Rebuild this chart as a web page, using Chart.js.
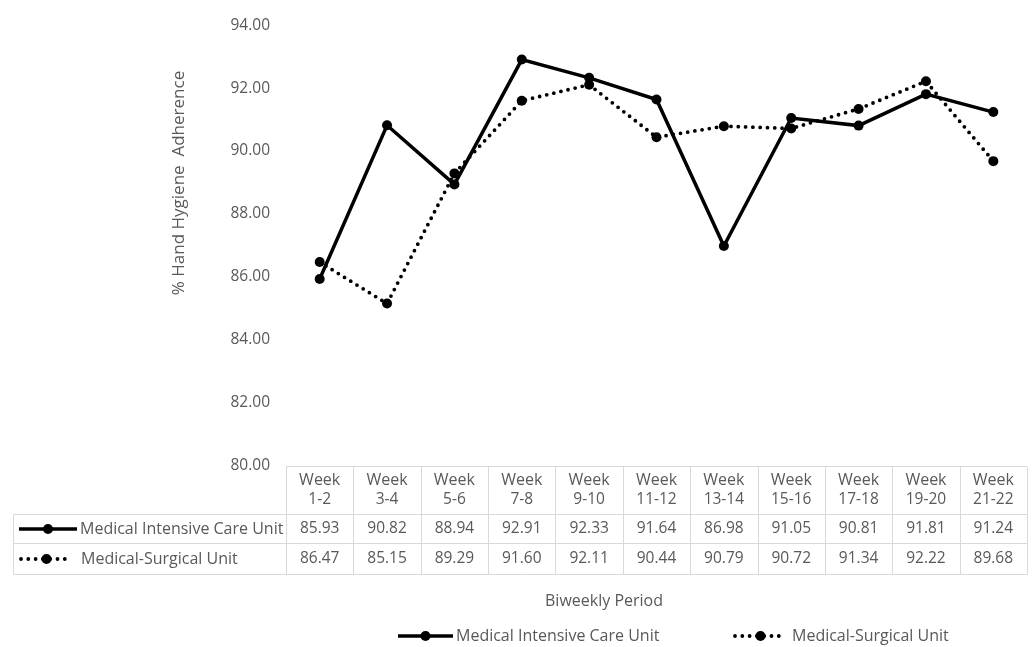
<!DOCTYPE html>
<html>
<head>
<meta charset="utf-8">
<title>Hand Hygiene Adherence by Biweekly Period</title>
<script src="https://cdn.jsdelivr.net/npm/chart.js@4.4.1/dist/chart.umd.min.js"></script>
<style>
  html, body { margin: 0; padding: 0; background: #ffffff; }
  #wrap { width: 1033px; height: 647px; position: relative; }
</style>
</head>
<body>
<div id="wrap"><canvas id="chart" width="1033" height="647"></canvas></div>
<script>
// Biweekly periods (shown as two-line headers in the data table)
const periods = [
  ['Week', '1-2'], ['Week', '3-4'], ['Week', '5-6'], ['Week', '7-8'],
  ['Week', '9-10'], ['Week', '11-12'], ['Week', '13-14'], ['Week', '15-16'],
  ['Week', '17-18'], ['Week', '19-20'], ['Week', '21-22']
];

// % hand hygiene adherence per unit
const micuLabel = 'Medical Intensive Care Unit';
const micuValues = [85.93, 90.82, 88.94, 92.91, 92.33, 91.64, 86.98, 91.05, 90.81, 91.81, 91.24];

const msuLabel = 'Medical-Surgical Unit';
const msuValues = [86.47, 85.15, 89.29, 91.60, 92.11, 90.44, 90.79, 90.72, 91.34, 92.22, 89.68];

// Value axis range
const yMin = 80;
const yMax = 94;
const yStep = 2;

const yTitle = '% Hand Hygiene  Adherence';
const xTitle = 'Biweekly Period';

const FONT = '"Open Sans", "Noto Sans", sans-serif';
const TEXT = '#595959';
const GRID = '#d9d9d9';
const WORD_FONT = '16px ' + FONT;
const NUM_FONT = '15.5px ' + FONT;

// Draws a legend key (line + marker) in the dataset's style
function drawKey(ctx, ds, x0, x1, y) {
  ctx.save();
  ctx.strokeStyle = ds.borderColor;
  ctx.lineWidth = ds.borderWidth;
  ctx.lineCap = ds.borderCapStyle || 'butt';
  ctx.setLineDash(ds.borderDash || []);
  ctx.beginPath();
  ctx.moveTo(x0, y);
  ctx.lineTo(x1, y);
  ctx.stroke();
  ctx.setLineDash([]);
  ctx.fillStyle = ds.pointBackgroundColor;
  ctx.beginPath();
  ctx.arc((x0 + x1) / 2, y, ds.pointRadius, 0, Math.PI * 2);
  ctx.fill();
  ctx.restore();
}

// Data table under the plot, axis titles and bottom legend
const tablePlugin = {
  id: 'dataTable',
  afterDraw(chart) {
    const ctx = chart.ctx;
    const xs = chart.scales.x;
    const area = chart.chartArea;
    const n = periods.length;
    const step = xs.getPixelForValue(1) - xs.getPixelForValue(0);
    const colLeft = i => xs.getPixelForValue(i) - step / 2;
    const left = colLeft(0);
    const right = colLeft(n);
    const tableLeft = 13.5;
    const rTop = area.bottom + 1;
    const rHead = 514.5;
    const r1 = 543.5;
    const r2 = 574.5;

    ctx.save();
    ctx.strokeStyle = GRID;
    ctx.lineWidth = 1;
    ctx.beginPath();
    // horizontal rules
    ctx.moveTo(left, rTop); ctx.lineTo(right, rTop);
    [rHead, r1, r2].forEach(y => { ctx.moveTo(tableLeft, y); ctx.lineTo(right, y); });
    // vertical rules
    for (let i = 0; i <= n; i++) {
      const x = Math.round(colLeft(i)) + 0.5;
      ctx.moveTo(x, rTop); ctx.lineTo(x, r2);
    }
    ctx.moveTo(tableLeft, rHead); ctx.lineTo(tableLeft, r2);
    ctx.stroke();

    ctx.fillStyle = TEXT;
    ctx.textAlign = 'center';
    ctx.textBaseline = 'middle';
    for (let i = 0; i < n; i++) {
      const cx = xs.getPixelForValue(i);
      ctx.font = WORD_FONT;
      ctx.fillText(periods[i][0], cx, 480);
      ctx.font = NUM_FONT;
      ctx.fillText(periods[i][1], cx, 500);
      ctx.fillText(micuValues[i].toFixed(2), cx, 529);
      ctx.fillText(msuValues[i].toFixed(2), cx, 559);
    }

    const ds = chart.data.datasets;
    drawKey(ctx, ds[0], 19, 77, 529);
    drawKey(ctx, ds[1], 21, 72, 559);
    ctx.fillStyle = TEXT;
    ctx.font = WORD_FONT;
    ctx.textAlign = 'left';
    ctx.fillText(micuLabel, 80, 529);
    ctx.fillText(msuLabel, 81, 559);

    // x axis title
    ctx.textAlign = 'center';
    ctx.font = WORD_FONT;
    ctx.fillText(xTitle, 604, 601);

    // y axis title
    ctx.save();
    ctx.font = '17px ' + FONT;
    ctx.translate(179, 183);
    ctx.rotate(-Math.PI / 2);
    ctx.fillText(yTitle, 0, 0);
    ctx.restore();

    // bottom legend
    ctx.font = WORD_FONT;
    ctx.textAlign = 'left';
    drawKey(ctx, ds[0], 398, 453, 636);
    ctx.fillStyle = TEXT;
    ctx.fillText(micuLabel, 456, 636);
    drawKey(ctx, ds[1], 735, 786, 636);
    ctx.fillStyle = TEXT;
    ctx.fillText(msuLabel, 792, 636);
    ctx.restore();
  }
};

new Chart(document.getElementById('chart'), {
  type: 'line',
  data: {
    labels: periods.map(p => p.join(' ')),
    datasets: [
      {
        label: micuLabel,
        data: micuValues,
        borderColor: '#000000',
        backgroundColor: '#000000',
        borderWidth: 3.5,
        pointRadius: 5,
        pointBorderWidth: 0,
        pointBackgroundColor: '#000000',
        tension: 0
      },
      {
        label: msuLabel,
        data: msuValues,
        borderColor: '#000000',
        backgroundColor: '#000000',
        borderWidth: 3.8,
        borderDash: [0, 7.3],
        borderCapStyle: 'round',
        pointRadius: 5,
        pointBorderWidth: 0,
        pointBackgroundColor: '#000000',
        tension: 0
      }
    ]
  },
  options: {
    responsive: false,
    animation: false,
    devicePixelRatio: 1,
    layout: { padding: { top: 20.5, bottom: 181.5, left: 0, right: 6 } },
    plugins: {
      legend: { display: false },
      tooltip: { enabled: false },
      title: { display: false }
    },
    scales: {
      x: {
        type: 'category',
        display: false,
        offset: true
      },
      y: {
        min: yMin,
        max: yMax,
        afterFit(scale) { scale.width = 286; },
        grid: { display: false, drawTicks: false },
        border: { display: false },
        ticks: {
          stepSize: yStep,
          padding: 16,
          color: TEXT,
          font: { family: FONT, size: 15.5 },
          callback: v => Number(v).toFixed(2)
        }
      }
    }
  },
  plugins: [tablePlugin]
});
</script>
</body>
</html>
